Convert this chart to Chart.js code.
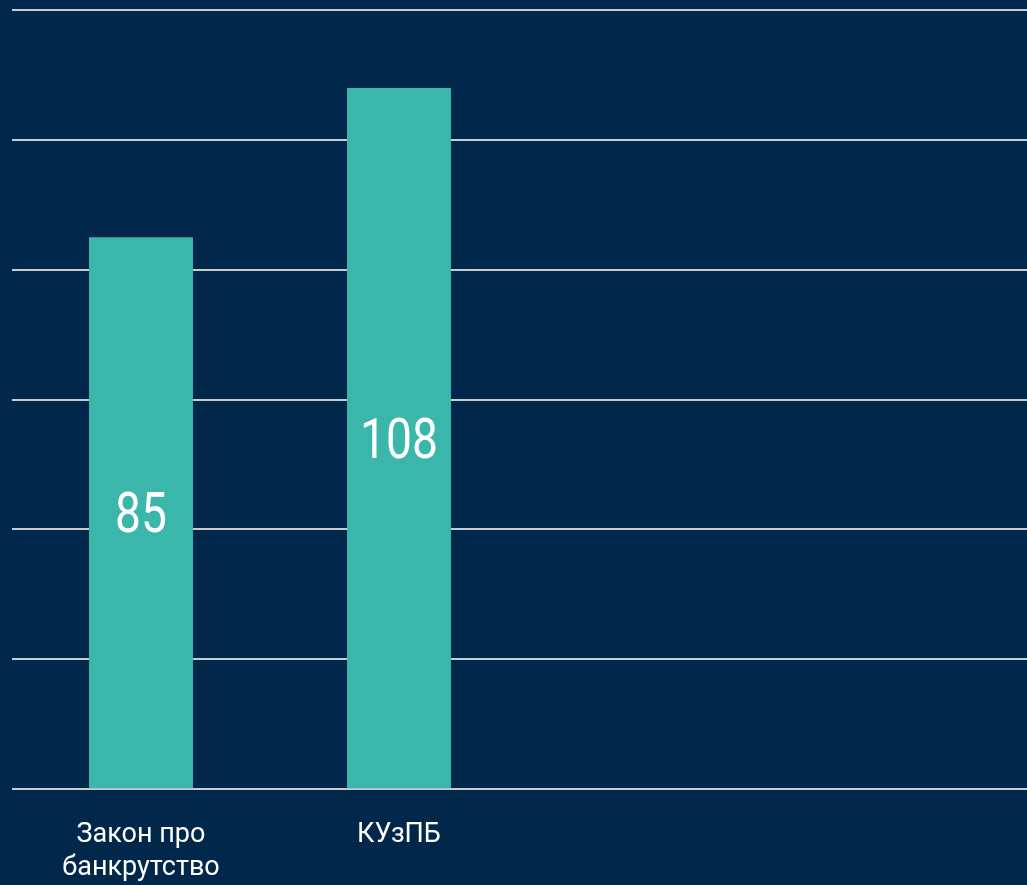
<!DOCTYPE html>
<html lang="uk">
<head>
    <meta charset="UTF-8">
    <title>Закон про банкрутство vs КУзПБ</title>
    <script src="https://cdn.jsdelivr.net/npm/chart.js"></script>
    <style>
        html, body {
            margin: 0;
            padding: 0;
            background-color: #01284a;
            overflow: hidden;
        }

        .chart-wrap {
            width: 1044px;
            height: 910px;
        }
    </style>
</head>
<body>
    <div class="chart-wrap">
        <canvas id="barChart"></canvas>
    </div>

    <script>
        // Chart data
        const categories = [['Закон про', 'банкрутство'], 'КУзПБ', '', ''];
        const values = [85, 108, null, null];
        const yTicks = [0, 20, 40, 60, 80, 100, 120];

        // value labels in the middle of each bar, slightly condensed
        const barValueLabels = {
            id: 'barValueLabels',
            afterDatasetsDraw(chart) {
                const ctx = chart.ctx;
                const meta = chart.getDatasetMeta(0);
                ctx.save();
                ctx.fillStyle = '#ffffff';
                ctx.font = '55px Roboto';
                ctx.textAlign = 'center';
                ctx.textBaseline = 'middle';
                meta.data.forEach((bar, i) => {
                    if (values[i] == null) return;
                    const cy = (bar.y + bar.base) / 2;
                    ctx.save();
                    ctx.translate(bar.x, cy);
                    ctx.scale(0.84, 1);
                    ctx.fillText(String(values[i]), 0, 6);
                    ctx.restore();
                });
                ctx.restore();
            }
        };

        const ctx = document.getElementById('barChart').getContext('2d');
        new Chart(ctx, {
            type: 'bar',
            data: {
                labels: categories,
                datasets: [{
                    data: values,
                    backgroundColor: '#3ab6ab',
                    categoryPercentage: 1,
                    barPercentage: 0.403
                }]
            },
            options: {
                responsive: true,
                maintainAspectRatio: false,
                animation: false,
                layout: {
                    padding: { left: 12, top: 10, right: 0, bottom: 4 }
                },
                plugins: {
                    legend: { display: false },
                    tooltip: { enabled: false }
                },
                scales: {
                    x: {
                        grid: { display: false },
                        border: { display: false },
                        ticks: {
                            color: '#ffffff',
                            font: { family: 'Roboto', size: 27 },
                            padding: 22,
                            maxRotation: 0,
                            autoSkip: false
                        }
                    },
                    y: {
                        min: yTicks[0],
                        max: yTicks[yTicks.length - 1],
                        afterBuildTicks: (axis) => {
                            axis.ticks = yTicks.map(v => ({ value: v }));
                        },
                        ticks: { display: false },
                        border: { display: false },
                        grid: {
                            color: '#c9cbce',
                            lineWidth: 2,
                            drawTicks: false
                        }
                    }
                }
            },
            plugins: [barValueLabels]
        });
    </script>
</body>
</html>
